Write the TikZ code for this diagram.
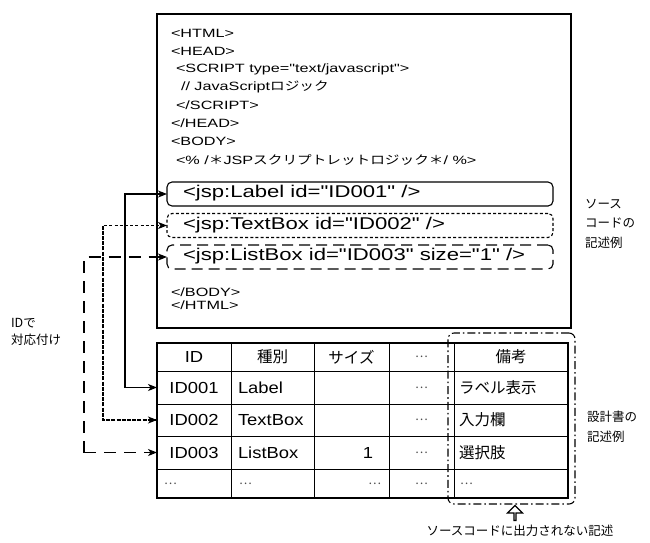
\documentclass[tikz,border=0pt]{standalone}
\usepackage{fontspec}
\setmainfont{Noto Sans CJK JP}
\newfontfamily\codelat[FakeStretch=1.35]{Liberation Sans}
\newfontfamily\codejp[FakeStretch=1.22]{Noto Sans CJK JP}
\newfontfamily\jsplat[FakeStretch=1.3]{Liberation Sans}
\newfontfamily\tbllat[FakeStretch=1.15]{Liberation Sans}
\usetikzlibrary{arrows.meta,shapes.arrows}
\begin{document}
\begin{tikzpicture}[x=1pt,y=-1pt,
  every node/.style={inner sep=0pt,outer sep=0pt},
  codetxt/.style={anchor=west,font=\fontsize{12}{12}\selectfont\codelat},
  jsptxt/.style={anchor=west,font=\fontsize{17}{17}\selectfont\jsplat},
  tbltxt/.style={font=\fontsize{16}{16}\selectfont\tbllat},
  tbljp/.style={font=\fontsize{15.5}{16}\selectfont},
  dots/.style={font=\fontsize{12}{12}\selectfont,text=black!70},
  lbltxt/.style={anchor=north west,align=left,font=\fontsize{12.5}{19.5}\selectfont},
  jspbox/.style={draw,line width=1.1pt,rounded corners=5pt,minimum width=386pt,minimum height=24pt,anchor=west},
  tip/.style={-{Stealth[length=9pt,width=7pt,inset=2.5pt]}},
  dotpat/.style={dash pattern=on 3pt off 2.2pt},
  dashpat/.style={dash pattern=on 11pt off 6pt},
  cdash/.style={dash pattern=on 12pt off 8pt},
  dashdot/.style={dash pattern=on 8pt off 3pt on 1.6pt off 3pt},
  cell/.style={minimum height=30pt}
]
\useasboundingbox (0,0) rectangle (650,542);
% code box
\node[draw,line width=1.1pt,minimum width=414pt,minimum height=314pt,anchor=north west] (code) at (157,14) {};
\node[codetxt] (l1) at (171,33) {<HTML>};
\node[codetxt] (l2) at (171,51) {<HEAD>};
\node[codetxt] (l3) at (176,69) {<SCRIPT type="text/javascript">};
\node[codetxt] (l4) at (181,87) {// JavaScript{\codejp ロジック}};
\node[codetxt] (l5) at (176,105) {</SCRIPT>};
\node[codetxt] (l6) at (171,123) {</HEAD>};
\node[codetxt] (l7) at (171,141) {<BODY>};
\node[codetxt] (l8) at (176,160) {<\% /{\codejp ＊}JSP{\codejp スクリプトレットロジック＊}/ \%>};
\node[jspbox] (b1) at (167,194) {};
\node[jspbox,dotpat] (b2) at (167,225.5) {};
\node[jspbox,dashpat] (b3) at (167,257) {};
\node[jsptxt] (t1) at (183,193.5) {<jsp:Label id="ID001" />};
\node[jsptxt] (t2) at (183,225) {<jsp:TextBox id="ID002" />};
\node[jsptxt] (t3) at (183,256.5) {<jsp:ListBox id="ID003" size="1" />};
\node[codetxt] (l9) at (171,292) {</BODY>};
\node[codetxt] (l10) at (171,305) {</HTML>};
% table
\draw[line width=1.1pt] (157,343) rectangle (568,498);
\foreach \y in {371,404,436,469} \draw[line width=0.9pt] (157,\y) -- (568,\y);
\foreach \x in {231,314,389,454} \draw[line width=0.9pt] (\x,343) -- (\x,498);
\node[tbltxt] (h1) at (194,357) {ID};
\node[tbljp] (h2) at (272.5,357) {種別};
\node[tbljp] (h3) at (351.5,357) {サイズ};
\node[dots] (h4) at (421.5,357) {…};
\node[tbljp] (h5) at (511,357) {備考};
\node[tbltxt,cell,minimum width=74pt] (id1) at (194,387.5) {ID001};
\node[tbltxt,cell,minimum width=74pt] (id2) at (194,420) {ID002};
\node[tbltxt,cell,minimum width=74pt] (id3) at (194,452.5) {ID003};
\node[tbltxt,anchor=west] (k1) at (238,387.5) {Label};
\node[tbltxt,anchor=west] (k2) at (238,420) {TextBox};
\node[tbltxt,anchor=west] (k3) at (238,452.5) {ListBox};
\node[tbltxt,anchor=east] (s3) at (373,452.5) {1};
\node[dots] (d1) at (421.5,387.5) {…};
\node[dots] (d2) at (421.5,420) {…};
\node[dots] (d3) at (421.5,452.5) {…};
\node[dots] (d4) at (421.5,483.5) {…};
\node[tbljp,anchor=west] (r1) at (459,387.5) {ラベル表示};
\node[tbljp,anchor=west] (r2) at (459,420) {入力欄};
\node[tbljp,anchor=west] (r3) at (459,452.5) {選択肢};
\node[dots,anchor=west] (r4) at (460,483.5) {…};
\node[dots,anchor=west] (e1) at (164,483.5) {…};
\node[dots,anchor=west] (e2) at (239,483.5) {…};
\node[dots,anchor=east] (e3) at (381,483.5) {…};
% dash-dot frame
\node[draw,line width=1.1pt,dashdot,rounded corners=6pt,minimum width=127pt,minimum height=171pt,anchor=north west] (frame) at (448,333) {};
\node[draw,line width=1.1pt,single arrow,shape border rotate=90,minimum height=15pt,minimum width=15pt,single arrow head extend=3.5pt,single arrow head indent=0pt] (up) at (515,513.5) {};
\node[font=\fontsize{12.5}{13}\selectfont] (note) at (520,531) {ソースコードに出力されない記述};
% labels
\node[lbltxt] (src) at (585,199) {ソース\\コードの\\記述例};
\node[lbltxt] (doc) at (587,411) {設計書の\\記述例};
\node[lbltxt,font=\fontsize{12.5}{17}\selectfont] (idl) at (11,318) {IDで\\対応付け};
% connectors
\draw[line width=1.1pt,tip] (id1.west) -| (125,194) -- (b1.west);
\draw[line width=1.1pt,tip] (125,194) |- (id1.west);
\draw[line width=1.1pt,dotpat,tip] (id2.west) -| (103,225.5) -- (b2.west);
\draw[line width=1.1pt,dotpat,tip] (103,225.5) |- (id2.west);
\draw[line width=1.1pt,cdash,tip] (84,452.5) |- (b3.west);
\draw[line width=1.1pt,cdash,tip] (84,452.5) -- (id3.west);
\end{tikzpicture}
\end{document}
